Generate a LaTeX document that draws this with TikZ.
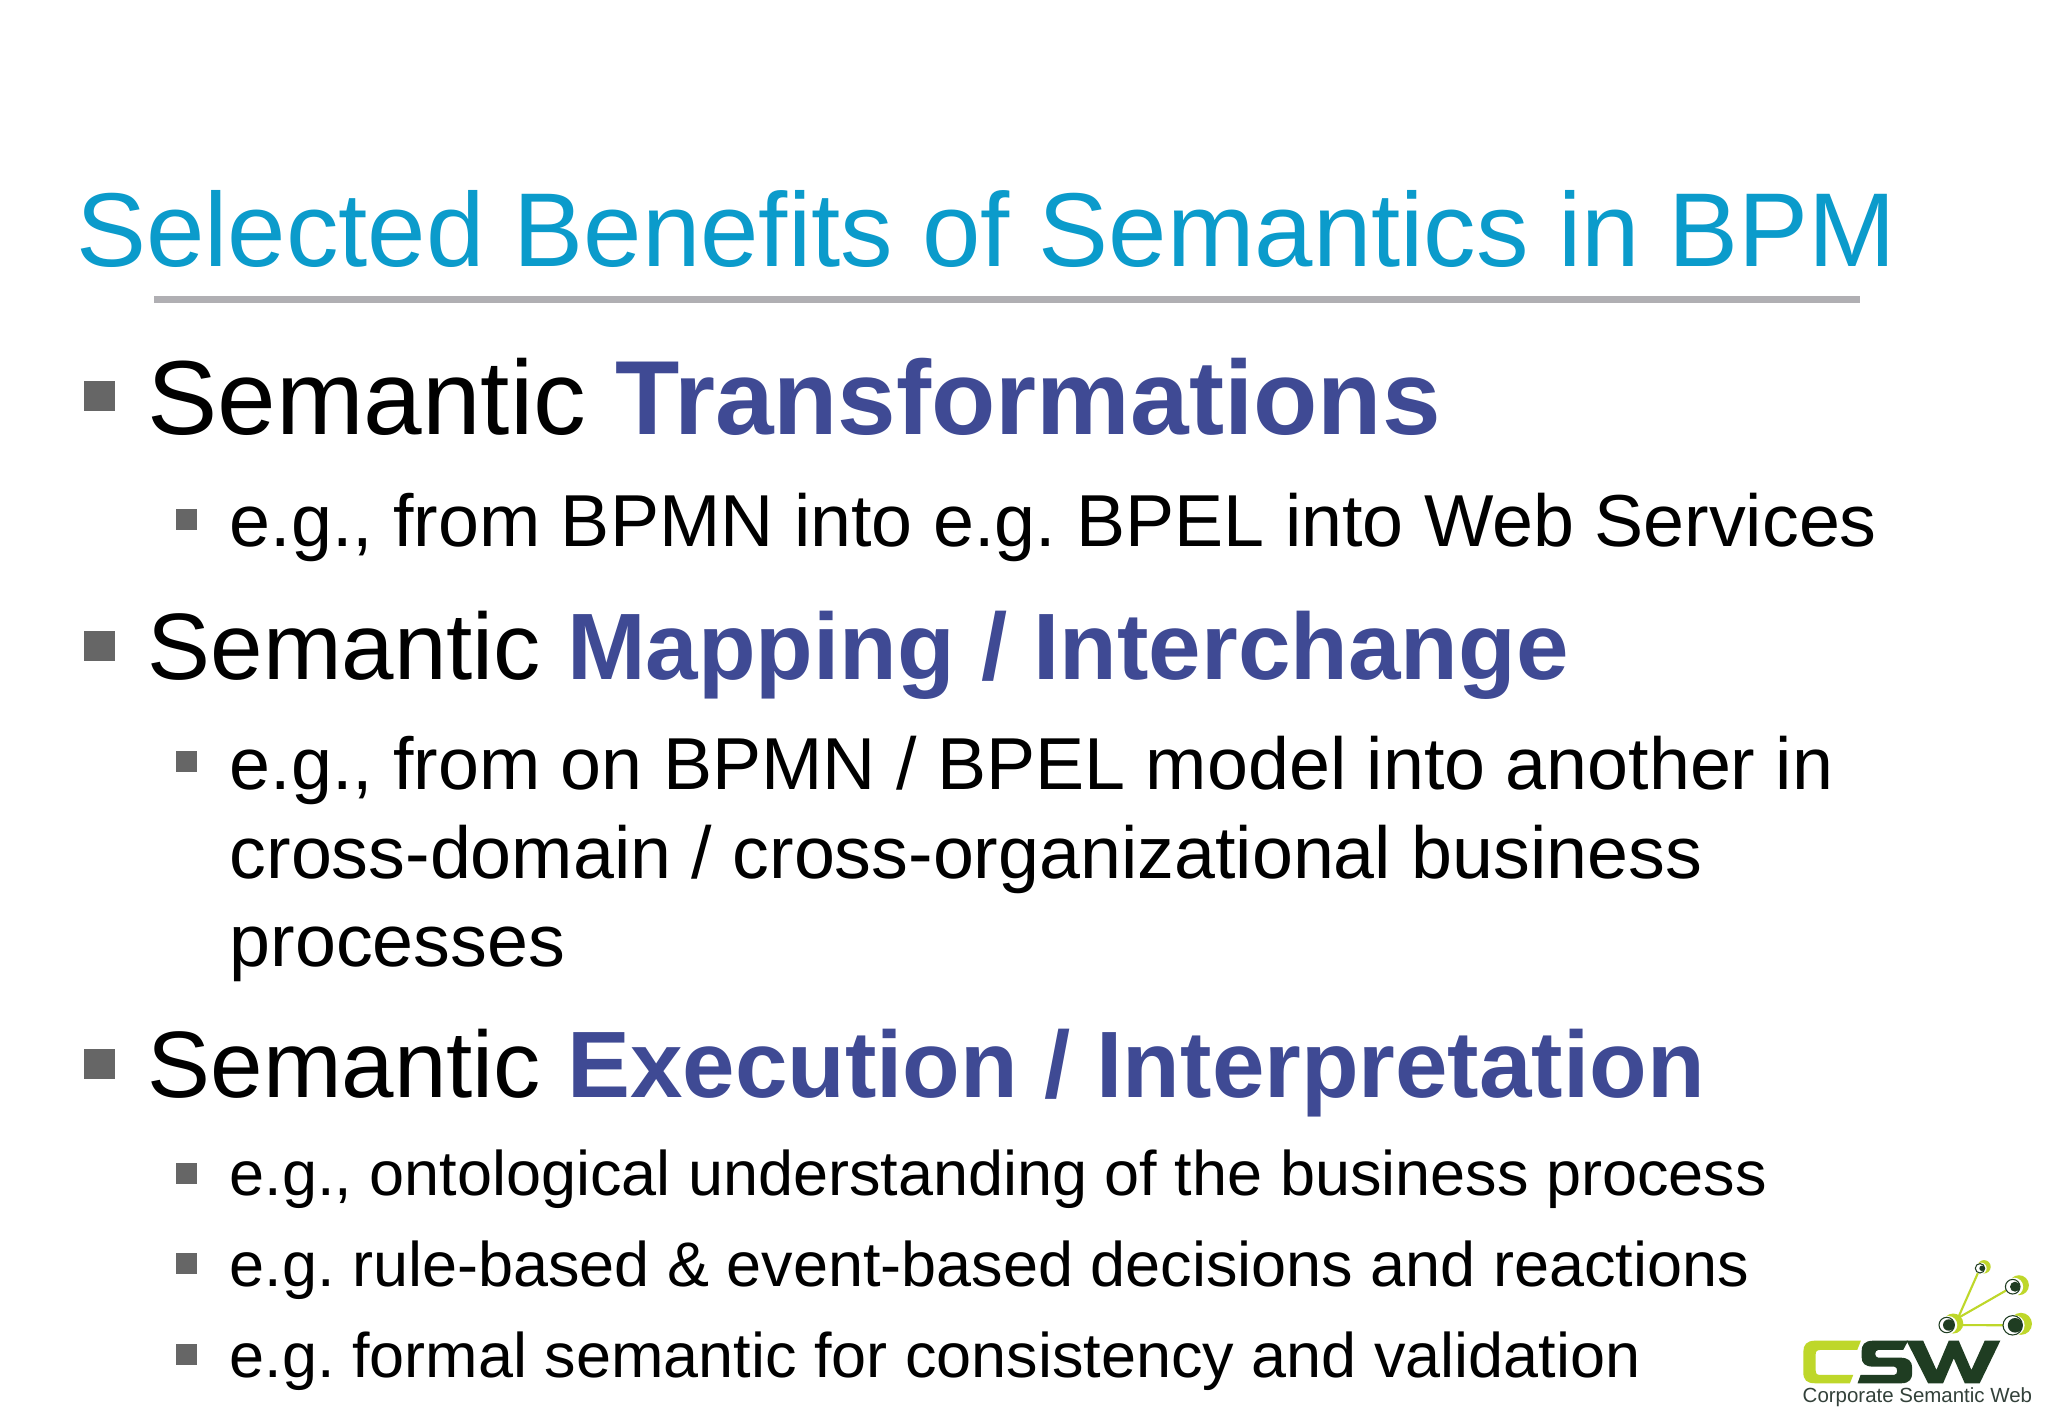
\documentclass[tikz,border=0pt]{standalone}
\usepackage{fontspec}
\setmainfont{Liberation Sans}
\definecolor{titleblue}{HTML}{0B9BCB}
\definecolor{keyblue}{HTML}{3F4A94}
\definecolor{bulletgray}{HTML}{666666}
\definecolor{rulegray}{HTML}{B0AFB3}
\definecolor{cswlime}{HTML}{BED72A}
\definecolor{cswdark}{HTML}{1F3D22}
\definecolor{cswtext}{HTML}{33413A}
\newcommand{\keyword}[1]{\textcolor{keyblue}{\textbf{#1}}}
\frenchspacing
\tikzset{
	line/.style={anchor=base west, inner sep=0pt},
	titletext/.style={line, text=titleblue, font=\fontsize{29.85}{32}\selectfont},
	headbig/.style={line, font=\fontsize{29.95}{32}\selectfont},
	headsmall/.style={line, font=\fontsize{26.83}{30}\selectfont},
	subbig/.style={line, font=\fontsize{20.93}{24}\selectfont},
	subsmall/.style={line, font=\fontsize{17.91}{22}\selectfont},
	logotext/.style={line, text=cswtext, font=\fontsize{5.82}{7}\selectfont}
}
\begin{document}
\begin{tikzpicture}[x=0.01cm, y=-0.01cm]
		\useasboundingbox (0,0) rectangle (2048,1418);
		\fill[white] (0,0) rectangle (2048,1418);
		% title
		\node[titletext] (title) at (75.5,266) {Selected Benefits of Semantics in BPM};
		\fill[rulegray] (154,296) rectangle (1860,303);
		% bullets
		\foreach \y in {381,631,1049}
			\fill[bulletgray] (84,\y) rectangle (115,\y+30);
		\foreach \y in {509,751,1163,1253,1344}
			\fill[bulletgray] (176,\y) rectangle (197,\y+21);
		% headings
		\node[headbig] (headone) at (146.5,434) {Semantic \keyword{Transformations}};
		\node[headsmall] (headtwo) at (147,679) {Semantic \keyword{Mapping / Interchange}};
		\node[headsmall] (headthree) at (147,1097) {Semantic \keyword{Execution / Interpretation}};
		% sub items
		\node[subbig] (subone) at (229,546.5) {e.g., from BPMN into e.g. BPEL into Web Services};
		\node[subbig] (subtwo) at (229,789) {e.g., from on BPMN / BPEL model into another in};
		\node[subbig] (subtwob) at (229,878) {cross-domain / cross-organizational business};
		\node[subbig] (subtwoc) at (229,966) {processes};
		\node[subsmall] (subthree) at (229,1195) {e.g., ontological understanding of the business process};
		\node[subsmall] (subfour) at (229,1286) {e.g. rule-based \& event-based decisions and reactions};
		\node[subsmall] (subfive) at (229,1377) {e.g. formal semantic for consistency and validation};
		% logo links
		\coordinate (hub) at (1958,1318);
		\coordinate (dotroot) at (1946.7,1325);
		\coordinate (dottop) at (1980,1268.3);
		\coordinate (dotmid) at (2012.7,1286.7);
		\coordinate (dotlow) at (2012.7,1325.3);
		\draw[cswlime, line width=0.6pt] (hub) -- (dottop);
		\draw[cswlime, line width=0.6pt] (hub) -- (dotmid);
		\draw[cswlime, line width=0.6pt] (dotroot) -- (dotlow);
		% logo eyes
		\foreach \x/\y/\r/\lime/\dark in {1946.7/1325/7.7/10/5.7, 1980/1268.3/4.7/6.7/2.7, 2012.7/1286.7/7.3/10/5, 2012.7/1325.3/9.7/11/7.3} {
			\fill[cswlime] (\x+0.85*\r,\y-1.5) circle (\lime);
			\fill[white] (\x+0.2*\r,\y) circle (\lime-1);
			\draw[cswdark, line width=0.3pt, fill=white] (\x,\y) circle (\r);
			\fill[cswdark] (\x+\r-\dark,\y) circle (\dark);
		}
		% logo letters
		\begin{scope}[shift={(1795,1335)}, x=0.00333cm, y=-0.00333cm]
			\fill[cswlime] (198,17) -- (60,17) .. controls (35,17) and (25,30) .. (25,50) -- (25,112) .. controls (25,135) and (35,145) .. (60,145) -- (165,145) -- (175,120) -- (75,120) .. controls (65,120) and (62,115) .. (62,105) -- (62,60) .. controls (62,50) and (65,45) .. (75,45) -- (187,45) -- cycle;
			\fill[cswdark] (340,17) -- (235,17) .. controls (208,17) and (200,30) .. (200,50) -- (200,65) .. controls (200,85) and (210,95) .. (235,95) -- (298,95) .. controls (310,95) and (310,120) .. (298,120) -- (197,120) -- (188,145) -- (320,145) .. controls (345,145) and (352,130) .. (352,115) -- (352,98) .. controls (352,78) and (340,68) .. (315,68) -- (250,68) .. controls (238,68) and (238,45) .. (250,45) -- (325,45) -- cycle;
			\fill[cswdark] (335,17) -- (385,17) -- (425,105) -- (462,17) -- (492,17) -- (530,105) -- (570,17) -- (617,17) -- (555,145) -- (510,145) -- (477,70) -- (445,145) -- (400,145) -- cycle;
		\end{scope}
		\node[logotext] (logoname) at (1802,1402) {Corporate Semantic Web};
	\end{tikzpicture}
\end{document}
